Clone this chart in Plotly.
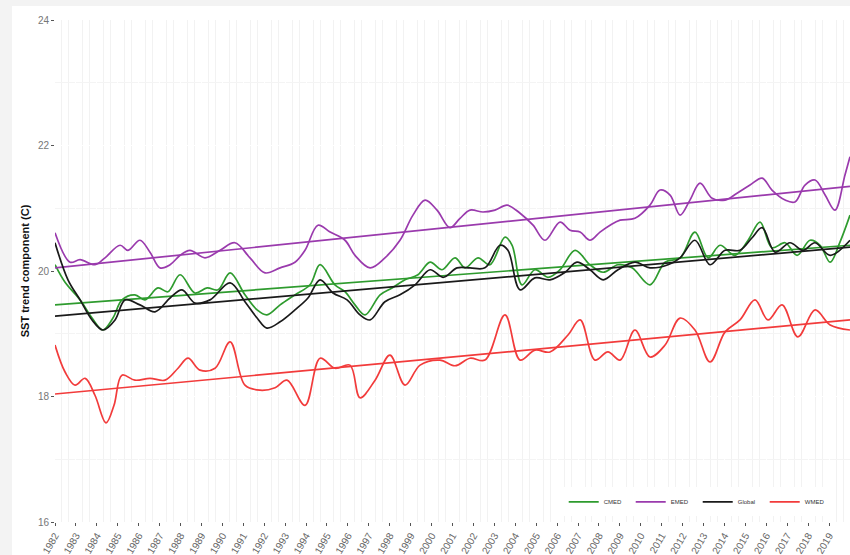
import plotly.graph_objects as go

# SST trend components (deg C) per region, sampled along decimal years
emed_years = [1982.00, 1982.72, 1983.20, 1983.91, 1984.39, 1985.11, 1985.49, 1986.06, 1986.54, 1987.02,
              1987.50, 1987.98, 1988.45, 1989.17, 1989.89, 1990.60, 1991.32, 1992.04, 1992.76, 1993.47,
              1993.95, 1994.57, 1995.15, 1995.86, 1996.34, 1997.06, 1997.77, 1998.49, 1999.11, 1999.69,
              2000.26, 2000.88, 2001.36, 2001.84, 2002.46, 2003.03, 2003.61, 2004.23, 2004.85, 2005.42,
              2006.14, 2006.62, 2007.10, 2007.57, 2008.05, 2008.53, 2009.01, 2009.72, 2010.44, 2010.92,
              2011.40, 2011.88, 2012.35, 2012.83, 2013.41, 2014.03, 2014.60, 2015.22, 2015.80, 2016.27,
              2016.90, 2017.37, 2017.85, 2018.33, 2018.81, 2019.28, 2019.76, 2020.00]
emed_vals = [20.61, 20.14, 20.18, 20.10, 20.21, 20.41, 20.33, 20.49, 20.30, 20.05,
             20.10, 20.25, 20.33, 20.21, 20.33, 20.45, 20.21, 19.97, 20.05, 20.14,
             20.33, 20.73, 20.62, 20.49, 20.25, 20.05, 20.21, 20.49, 20.89, 21.13,
             20.97, 20.69, 20.84, 20.97, 20.94, 20.97, 21.05, 20.92, 20.73, 20.49,
             20.78, 20.65, 20.62, 20.49, 20.62, 20.73, 20.81, 20.84, 21.05, 21.29,
             21.21, 20.89, 21.13, 21.40, 21.16, 21.13, 21.24, 21.37, 21.48, 21.29,
             21.13, 21.10, 21.37, 21.45, 21.21, 20.97, 21.53, 21.82]

cmed_years = [1982.00, 1982.48, 1983.20, 1983.77, 1984.29, 1984.77, 1985.20, 1985.82, 1986.30, 1986.92,
              1987.40, 1987.98, 1988.69, 1989.27, 1989.79, 1990.37, 1991.08, 1991.66, 1992.13, 1992.76,
              1993.47, 1994.19, 1994.67, 1995.38, 1995.86, 1996.34, 1996.82, 1997.54, 1998.11, 1998.73,
              1999.35, 1999.93, 2000.50, 2001.12, 2001.60, 2002.22, 2002.79, 2003.51, 2003.85, 2004.32,
              2004.94, 2005.57, 2006.14, 2006.86, 2007.57, 2008.20, 2008.91, 2009.58, 2010.44, 2011.16,
              2011.88, 2012.59, 2013.22, 2013.79, 2014.50, 2015.13, 2015.70, 2016.27, 2016.90, 2017.47,
              2018.09, 2018.57, 2019.05, 2019.52, 2020.00]
cmed_vals = [20.10, 19.82, 19.54, 19.25, 19.06, 19.25, 19.54, 19.62, 19.54, 19.73,
             19.67, 19.94, 19.65, 19.73, 19.70, 19.97, 19.62, 19.38, 19.30, 19.46,
             19.62, 19.78, 20.10, 19.78, 19.67, 19.46, 19.30, 19.62, 19.73, 19.86,
             19.94, 20.14, 20.02, 20.21, 20.05, 20.21, 20.10, 20.54, 20.41, 19.78,
             20.02, 19.90, 20.02, 20.33, 20.10, 19.98, 20.10, 20.05, 19.78, 20.14,
             20.21, 20.62, 20.21, 20.41, 20.25, 20.49, 20.78, 20.37, 20.45, 20.25,
             20.49, 20.41, 20.14, 20.46, 20.89]

global_years = [1982.00, 1982.62, 1983.20, 1983.77, 1984.29, 1984.87, 1985.35, 1986.06, 1986.78, 1987.50,
                1988.07, 1988.69, 1989.41, 1990.37, 1991.08, 1991.66, 1992.13, 1992.76, 1993.47, 1994.09,
                1994.67, 1995.29, 1995.96, 1996.58, 1997.06, 1997.77, 1998.49, 1999.21, 1999.93, 2000.55,
                2001.22, 2001.84, 2002.55, 2003.27, 2003.65, 2004.23, 2004.94, 2005.66, 2006.38, 2006.95,
                2007.57, 2008.20, 2008.91, 2009.72, 2010.44, 2011.30, 2011.88, 2012.59, 2013.31, 2014.03,
                2014.74, 2015.32, 2015.80, 2016.42, 2017.13, 2017.75, 2018.33, 2019.05, 2020.00]
global_vals = [20.45, 19.86, 19.54, 19.22, 19.06, 19.22, 19.54, 19.46, 19.35, 19.57,
               19.70, 19.49, 19.54, 19.81, 19.51, 19.25, 19.09, 19.19, 19.38, 19.57,
               19.86, 19.65, 19.54, 19.30, 19.22, 19.51, 19.62, 19.78, 20.02, 19.90,
               20.05, 20.05, 20.05, 20.41, 20.33, 19.70, 19.89, 19.86, 19.98, 20.14,
               20.02, 19.86, 20.02, 20.14, 20.05, 20.10, 20.21, 20.49, 20.10, 20.33,
               20.33, 20.53, 20.69, 20.30, 20.45, 20.33, 20.45, 20.25, 20.49]

wmed_years = [1982.00, 1982.48, 1982.96, 1983.44, 1983.91, 1984.44, 1984.82, 1985.20, 1985.82, 1986.54,
              1987.26, 1987.88, 1988.36, 1988.93, 1989.65, 1990.37, 1991.08, 1991.80, 1992.52, 1993.09,
              1993.95, 1994.67, 1995.38, 1996.10, 1996.58, 1997.30, 1998.01, 1998.73, 1999.45, 2000.40,
              2001.12, 2001.84, 2002.55, 2003.51, 2004.23, 2004.94, 2005.66, 2006.52, 2007.10, 2007.81,
              2008.43, 2009.01, 2009.72, 2010.44, 2011.16, 2011.88, 2012.59, 2013.31, 2014.03, 2014.74,
              2015.46, 2016.08, 2016.75, 2017.51, 2018.33, 2019.05, 2020.00]
wmed_vals = [18.82, 18.39, 18.18, 18.29, 18.02, 17.58, 17.86, 18.34, 18.26, 18.29,
             18.26, 18.45, 18.61, 18.42, 18.45, 18.87, 18.18, 18.10, 18.14, 18.26,
             17.86, 18.61, 18.45, 18.50, 17.98, 18.26, 18.66, 18.18, 18.50, 18.58,
             18.49, 18.61, 18.58, 19.30, 18.58, 18.74, 18.71, 18.98, 19.22, 18.58,
             18.71, 18.58, 19.06, 18.63, 18.82, 19.25, 19.06, 18.55, 19.03, 19.22,
             19.54, 19.22, 19.46, 18.95, 19.38, 19.14, 19.06]

# Linear trend fits: value at the start and end of the record
trend_years = [1982.0, 2020.0]
emed_trend = [20.05, 21.35]
cmed_trend = [19.46, 20.41]
global_trend = [19.28, 20.38]
wmed_trend = [18.04, 19.22]

year_ticks = list(range(1982, 2020))

series = [
    ("CMED", cmed_years, cmed_vals, cmed_trend, "#2e9b2e"),
    ("EMED", emed_years, emed_vals, emed_trend, "#9a3aad"),
    ("Global", global_years, global_vals, global_trend, "#1a1a1a"),
    ("WMED", wmed_years, wmed_vals, wmed_trend, "#f23b3b"),
]

fig = go.Figure()
for name, xs, ys, trend, color in series:
    fig.add_trace(go.Scatter(
        x=xs, y=ys, mode="lines", name=name, legendgroup=name,
        line=dict(color=color, width=1.7, shape="spline", smoothing=1.0),
    ))
    fig.add_trace(go.Scatter(
        x=trend_years, y=trend, mode="lines", name=name, legendgroup=name,
        showlegend=False, line=dict(color=color, width=1.7),
    ))

plot_l, plot_r, plot_t, plot_b = 55, 0, 20, 33
W, H = 850, 555
pw, ph = W - plot_l - plot_r, H - plot_t - plot_b

# white figure area inside the light grey frame
fig.add_shape(type="rect", xref="paper", yref="paper", layer="below",
              x0=(12 - plot_l) / pw, x1=1.02, y0=-plot_b / ph - 0.01, y1=1 + (plot_t - 6) / ph,
              fillcolor="white", line=dict(width=0))

fig.update_layout(
    width=W, height=H,
    margin=dict(l=plot_l, r=plot_r, t=plot_t, b=plot_b),
    paper_bgcolor="#f3f3f3",
    plot_bgcolor="#e9e9e9",
    font=dict(family="Liberation Sans, Arial, sans-serif", color="#555"),
    showlegend=True,
    legend=dict(
        orientation="h", x=0.977, xanchor="right", y=0.04, yanchor="middle",
        bgcolor="white", font=dict(size=6, color="#333"), itemwidth=30,
        entrywidth=22, entrywidthmode="pixels", traceorder="normal",
    ),
)

fig.update_xaxes(
    range=[1982, 2020], tickmode="array", tickvals=year_ticks,
    ticktext=[str(y) for y in year_ticks], tickangle=-60,
    tickfont=dict(size=10, color="#666"),
    ticks="outside", ticklen=3, tickcolor="#555",
    showgrid=True, gridcolor="white", gridwidth=1,
    minor=dict(dtick=1 / 3, tick0=1982, showgrid=True, gridcolor="#f2f2f2", gridwidth=0.8),
    zeroline=False, showline=False,
)
fig.update_yaxes(
    range=[16, 24], tickvals=[16, 18, 20, 22, 24],
    tickfont=dict(size=10, color="#777"),
    ticks="outside", ticklen=3, tickcolor="#555",
    showgrid=True, gridcolor="white", gridwidth=1.1,
    minor=dict(dtick=1, tick0=16, showgrid=True, gridcolor="#f4f4f4", gridwidth=0.6),
    zeroline=False, showline=False,
    title=dict(text="<b>SST trend component (C)</b>", font=dict(size=11, color="#111"), standoff=6),
)

fig.write_html("out.html")
